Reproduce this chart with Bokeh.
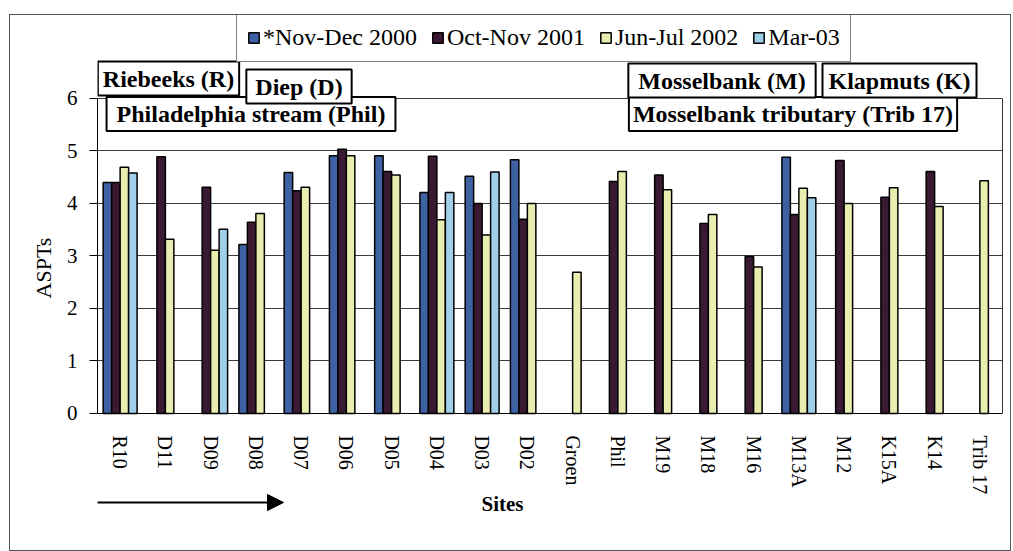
import numpy as np
from bokeh.plotting import figure
from bokeh.models import (ColumnDataSource, FactorRange, Range1d, FixedTicker, Legend,
                          LegendItem, Label, Arrow, NormalHead, LinearAxis)
from bokeh.transform import dodge
from bokeh.embed import file_html
from bokeh.resources import INLINE

nan = np.nan
sites = ["R10", "D11", "D09", "D08", "D07", "D06", "D05", "D04", "D03", "D02",
         "Groen", "Phil", "M19", "M18", "M16", "M13A", "M12", "K15A", "K14", "Trib 17"]
nov_dec_2000 = [4.40, nan, nan, 3.22, 4.59, 4.91, 4.91, 4.21, 4.52, 4.83,
                nan, nan, nan, nan, nan, 4.88, nan, nan, nan, nan]
oct_nov_2001 = [4.40, 4.89, 4.31, 3.64, 4.24, 5.03, 4.61, 4.90, 4.00, 3.70,
                nan, 4.42, 4.54, 3.62, 2.99, 3.79, 4.82, 4.12, 4.61, nan]
jun_jul_2002 = [4.69, 3.32, 3.11, 3.81, 4.31, 4.91, 4.54, 3.69, 3.40, 4.00,
                2.69, 4.61, 4.26, 3.79, 2.79, 4.29, 4.00, 4.30, 3.94, 4.43]
mar_03 = [4.58, nan, 3.51, nan, nan, nan, nan, 4.21, 4.60, nan,
          nan, nan, nan, nan, nan, 4.11, nan, nan, nan, nan]
y_ticks = [0, 1, 2, 3, 4, 5, 6]

series_names = ["*Nov-Dec 2000", "Oct-Nov 2001", "Jun-Jul 2002", "Mar-03"]
series_keys = ["s2000", "s2001", "s2002", "s2003"]
colors = ["#3e61a3", "#3a1a33", "#e9eeb0", "#a0cfea"]

source = ColumnDataSource(data=dict(
    sites=sites,
    s2000=np.array(nov_dec_2000, dtype=float),
    s2001=np.array(oct_nov_2001, dtype=float),
    s2002=np.array(jun_jul_2002, dtype=float),
    s2003=np.array(mar_03, dtype=float),
))

SERIF = "Liberation Serif"
SERIF_Q = "'Liberation Serif', 'Times New Roman', serif"

# the frame is extended above and below the 0-6 data area so that the legend,
# the region boxes, the "Sites" label and the arrow are not clipped
p = figure(x_range=FactorRange(*sites, range_padding=0), y_range=Range1d(-2.04, 7.58),
           width=1000, height=535, output_backend="svg", toolbar_location=None,
           min_border_left=87, min_border_right=8, min_border_top=0, min_border_bottom=30)
p.margin = (15, 0, 0, 10)
p.styles = {"outline": "1px solid #555"}
p.background_fill_color = "white"
p.border_fill_color = "white"
p.outline_line_color = None

bw = 0.1875
offsets = [-1.5 * bw, -0.5 * bw, 0.5 * bw, 1.5 * bw]
renderers = []
for key, off, col in zip(series_keys, offsets, colors):
    r = p.vbar(x=dodge("sites", off, range=p.x_range), top=key, width=bw, bottom=0,
               source=source, fill_color=col, line_color="black", line_width=1.5)
    renderers.append(r)

# grid (line at 6 acts as top border of plot area)
p.xgrid.grid_line_color = None
p.ygrid.grid_line_color = "#3a3a3a"
p.ygrid.grid_line_width = 1
p.ygrid.ticker = FixedTicker(ticks=y_ticks[1:])

# y axis
p.yaxis.ticker = FixedTicker(ticks=y_ticks)
p.yaxis.bounds = (0, 6)
p.yaxis.axis_label = "ASPTs"
p.yaxis.axis_label_text_font = SERIF
p.yaxis.axis_label_text_font_style = "normal"
p.yaxis.axis_label_text_font_size = "22px"
p.yaxis.axis_label_text_color = "black"
p.yaxis.axis_label_standoff = 8
p.yaxis.major_label_text_font = SERIF
p.yaxis.major_label_text_font_size = "21px"
p.yaxis.major_label_text_color = "black"
p.yaxis.major_label_standoff = 12
p.yaxis.major_tick_out = 8
p.yaxis.major_tick_in = 0
p.yaxis.minor_tick_line_color = None
p.yaxis.axis_line_color = "black"
p.yaxis.major_tick_line_color = "black"

# right border of plot area
ra = LinearAxis(bounds=(0, 6), ticker=FixedTicker(ticks=[]), major_tick_out=0, major_tick_in=0,
                major_label_standoff=0, major_label_text_font_size="0px",
                minor_tick_line_color=None, major_tick_line_color=None,
                axis_line_color="#333333")
p.add_layout(ra, "right")

# x axis at y = 0
p.xaxis.fixed_location = 0
p.xaxis.major_label_orientation = "vertical"
p.xaxis.major_label_text_font = SERIF
p.xaxis.major_label_text_font_size = "20px"
p.xaxis.major_label_text_color = "black"
p.xaxis.major_label_standoff = 16
p.xaxis.major_tick_line_color = None
p.xaxis.minor_tick_line_color = None
p.xaxis.axis_line_color = "black"

# legend
items = [LegendItem(label=n, renderers=[r]) for n, r in zip(series_names, renderers)]
legend = Legend(items=items, location=(139, 458), orientation="horizontal",
                border_line_color="black", border_line_width=1.5,
                background_fill_color="white", background_fill_alpha=1,
                padding=10, spacing=14, label_standoff=3, margin=0,
                glyph_width=13, glyph_height=13,
                label_text_font=SERIF_Q, label_text_font_size="24px",
                label_text_color="black")
p.add_layout(legend, "center")

# region boxes: text, x, y (px from the frame's bottom-left), padding (horizontal, vertical)
boxes = [
    ("Philadelphia stream (Phil)", 153.5, 406.5, (10, 4)),
    ("Riebeeks (R)", 71, 442, (5, 4)),
    ("Diep (D)", 201.5, 434, (9, 4)),
    ("Mosselbank tributary (Trib 17)", 695.5, 406.5, (4, 4)),
    ("Mosselbank (M)", 624.5, 440, (10, 4)),
    ("Klapmuts (K)", 802, 440, (6, 4)),
]
for txt, x, y, pad in boxes:
    p.add_layout(Label(x=x, y=y, x_units="screen", y_units="screen", text=txt,
                       text_align="center", text_baseline="middle",
                       text_font=SERIF_Q, text_font_style="bold", text_font_size="24px",
                       text_color="black", border_line_color="black", border_line_width=2,
                       background_fill_color="white", padding=pad))

# Sites label
p.add_layout(Label(x=405, y=17, x_units="screen", y_units="screen", text="Sites",
                   text_align="center", text_baseline="middle", text_font=SERIF_Q,
                   text_font_style="bold", text_font_size="21px", text_color="black"))

# arrow
p.add_layout(Arrow(x_start=-3, y_start=18, x_end=186, y_end=18,
                   start_units="screen", end_units="screen", line_width=2, line_color="black",
                   end=NormalHead(size=16, fill_color="black", line_color="black")))

open("out.html", "w").write(file_html(p, INLINE))
